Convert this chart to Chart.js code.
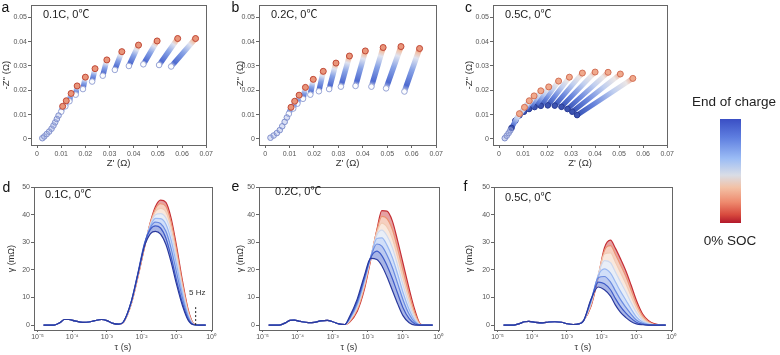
<!DOCTYPE html>
<html><head><meta charset="utf-8">
<script src="https://cdn.jsdelivr.net/npm/chart.js@4.4.1/dist/chart.umd.min.js"></script>
<style>
body{margin:0;background:#fff;width:780px;height:355px;overflow:hidden;position:relative;font-family:"Liberation Sans",Arial,"Noto Sans CJK SC",sans-serif;}
canvas{position:absolute;}
.lbl{position:absolute;color:#222;white-space:nowrap;line-height:1;}
.letter{font-size:14px;color:#111;}
.cond{font-size:11px;color:#222;}
.cb{position:absolute;left:720px;top:119px;width:21px;height:104px;background:linear-gradient(to bottom,#3a4fc4 0%,#5f7fe0 18%,#9bbcf5 38%,#d9dde6 54%,#f3c1a5 66%,#ee8a6e 80%,#d84a3e 92%,#b2182b 100%);}
</style></head><body>
<canvas id="ca" width="215" height="175" style="left:0px;top:0px"></canvas>
<canvas id="cb" width="212" height="175" style="left:233px;top:0px"></canvas>
<canvas id="cc" width="214" height="175" style="left:462px;top:0px"></canvas>
<canvas id="cd" width="217" height="173" style="left:0px;top:182px"></canvas>
<canvas id="ce" width="210" height="173" style="left:234px;top:182px"></canvas>
<canvas id="cf" width="214" height="173" style="left:463px;top:182px"></canvas>

<div class="lbl letter" style="left:1.5px;top:0px">a</div>
<div class="lbl letter" style="left:231.5px;top:0px">b</div>
<div class="lbl letter" style="left:465px;top:0px">c</div>
<div class="lbl letter" style="left:2.5px;top:180px">d</div>
<div class="lbl letter" style="left:231.5px;top:179px">e</div>
<div class="lbl letter" style="left:463.5px;top:179px">f</div>

<div class="lbl cond" style="left:43px;top:9px">0.1C, 0℃</div>
<div class="lbl cond" style="left:271px;top:9px">0.2C, 0℃</div>
<div class="lbl cond" style="left:505px;top:9px">0.5C, 0℃</div>
<div class="lbl cond" style="left:45px;top:189px">0.1C, 0℃</div>
<div class="lbl cond" style="left:275px;top:186px">0.2C, 0℃</div>
<div class="lbl cond" style="left:505px;top:192px">0.5C, 0℃</div>

<div class="lbl" style="left:189px;top:289px;font-size:8px;color:#333">5 Hz</div>

<div class="lbl" style="left:674px;top:94.5px;width:120px;text-align:center;font-size:13.5px;color:#222">End of charge</div>
<div class="cb"></div>
<div class="lbl" style="left:670px;top:234px;width:120px;text-align:center;font-size:13.5px;color:#222">0% SOC</div>

<script>
// ---------- axis ticks ----------
const nyqXTicks = [0, 0.01, 0.02, 0.03, 0.04, 0.05, 0.06, 0.07];
const nyqXLabels = ['0', '0.01', '0.02', '0.03', '0.04', '0.05', '0.06', '0.07'];
const nyqYTicks = [0, 0.01, 0.02, 0.03, 0.04, 0.05];
const nyqYLabels = ['0', '0.01', '0.02', '0.03', '0.04', '0.05'];
const tauTicks = [1e-5, 1e-4, 1e-3, 1e-2, 1e-1, 1];
const tauLabels = ['10⁻⁵', '10⁻⁴', '10⁻³', '10⁻²', '10⁻¹', '10⁰'];
const gammaTicks = [0, 10, 20, 30, 40, 50];
const gammaLabels = ['0', '10', '20', '30', '40', '50'];

// ---------- Nyquist (a) 0.1C ----------
const aTailRe = [0.0022, 0.0030, 0.0040, 0.0050, 0.0060, 0.0068, 0.0075, 0.0082, 0.0089];
const aTailIm = [0.0003, 0.0010, 0.0020, 0.0030, 0.0042, 0.0055, 0.0068, 0.0082, 0.0096];
const aChargedRe = [0.0100, 0.0117, 0.0134, 0.0160, 0.0190, 0.0228, 0.0272, 0.0322, 0.0380, 0.0440, 0.0505, 0.0555];
const aChargedIm = [0.0112, 0.0134, 0.0155, 0.0182, 0.0205, 0.0236, 0.0260, 0.0284, 0.0300, 0.0307, 0.0304, 0.0298];
const aSoc0Re = [0.0106, 0.0121, 0.0141, 0.0166, 0.0200, 0.0240, 0.0289, 0.0351, 0.0420, 0.0497, 0.0582, 0.0656];
const aSoc0Im = [0.0134, 0.0157, 0.0187, 0.0218, 0.0254, 0.0289, 0.0325, 0.0359, 0.0386, 0.0403, 0.0413, 0.0413];

// ---------- Nyquist (b) 0.2C ----------
const bTailRe = [0.0022, 0.0035, 0.0048, 0.0060, 0.0070, 0.0080, 0.0089];
const bTailIm = [0.0005, 0.0014, 0.0024, 0.0036, 0.0052, 0.0070, 0.0088];
const bChargedRe = [0.0097, 0.0115, 0.0132, 0.0155, 0.0185, 0.0220, 0.0262, 0.0310, 0.0370, 0.0435, 0.0495, 0.0570];
const bChargedIm = [0.0103, 0.0125, 0.0145, 0.0165, 0.0182, 0.0196, 0.0205, 0.0215, 0.0218, 0.0215, 0.0208, 0.0195];
const bSoc0Re = [0.0106, 0.0121, 0.0139, 0.0165, 0.0197, 0.0238, 0.0290, 0.0345, 0.0410, 0.0483, 0.0556, 0.0632];
const bSoc0Im = [0.0130, 0.0155, 0.0180, 0.0212, 0.0245, 0.0278, 0.0312, 0.0341, 0.0362, 0.0376, 0.0380, 0.0372];

// ---------- Nyquist (c) 0.5C ----------
const cTailRe = [0.0024, 0.0032, 0.0040, 0.0047];
const cTailIm = [0.0003, 0.0013, 0.0024, 0.0035];
const cChargedRe = [0.0052, 0.0068, 0.0085, 0.0104, 0.0125, 0.0148, 0.0174, 0.0203, 0.0232, 0.0260, 0.0285, 0.0305, 0.0325];
const cChargedIm = [0.0045, 0.0075, 0.0097, 0.0112, 0.0123, 0.0131, 0.0136, 0.0138, 0.0137, 0.0132, 0.0123, 0.0112, 0.0098];
const cSoc0Re = [0.0085, 0.0106, 0.0126, 0.0146, 0.0174, 0.0207, 0.0248, 0.0293, 0.0347, 0.0400, 0.0454, 0.0505, 0.0557];
const cSoc0Im = [0.0104, 0.0130, 0.0157, 0.0177, 0.0198, 0.0214, 0.0238, 0.0254, 0.0271, 0.0275, 0.0274, 0.0267, 0.0249];

// ---------- DRT: tau grid ----------
const tauLow = [1.5e-5, 3e-5, 4.5e-5, 6e-5, 8e-5, 1.2e-4, 2e-4, 3e-4, 4.5e-4, 7e-4, 1e-3, 1.5e-3, 2.2e-3];
const tauPeak = [3e-3, 5e-3, 8e-3, 0.012, 0.018, 0.025, 0.035, 0.05, 0.07, 0.1, 0.15, 0.22, 0.32, 0.45, 0.7];

// (d) 0.1C: common low-tau part + curves from 0% SOC (first) to end of charge (last)
const dLow = [0, 0, 0.9, 2.0, 2.0, 1.5, 1.0, 1.1, 1.6, 2.0, 1.6, 0.6, 0.3];
const dCurves = [
  [1.0, 7.5, 18.0, 28.0, 37.5, 43.0, 45.3, 44.5, 39.0, 29.0, 16.0, 5.5, 0.4, 0, 0],
  [1.0, 7.6, 18.2, 28.2, 37.2, 42.2, 44.0, 43.0, 37.4, 27.6, 15.0, 5.0, 0.3, 0, 0],
  [1.0, 7.8, 18.5, 28.5, 36.9, 41.2, 42.3, 41.0, 35.5, 26.0, 13.9, 4.5, 0.3, 0, 0],
  [1.1, 8.0, 18.8, 28.8, 36.5, 40.0, 40.4, 38.8, 33.4, 24.2, 12.7, 3.9, 0.2, 0, 0],
  [1.1, 8.1, 19.0, 29.0, 36.0, 38.7, 38.6, 36.6, 31.0, 22.2, 11.4, 3.3, 0.2, 0, 0],
  [1.1, 8.3, 19.2, 29.2, 35.4, 37.3, 36.8, 34.0, 28.0, 19.4, 9.8, 2.7, 0.1, 0, 0],
  [1.2, 8.5, 19.5, 29.5, 34.8, 36.0, 35.2, 31.5, 25.0, 16.5, 8.0, 2.0, 0.1, 0, 0],
  [1.2, 8.3, 19.0, 28.5, 33.2, 34.0, 33.0, 29.2, 23.0, 15.0, 7.0, 1.7, 0.1, 0, 0]
];
const dMarkTau = [0.36, 0.36];
const dMarkGamma = [0, 6.5];

// (e) 0.2C
const eLow = [0, 0, 0.8, 1.7, 1.8, 1.3, 0.9, 1.0, 1.5, 1.7, 1.2, 0.4, 0.2];
const eCurves = [
  [1.0, 5.0, 13.0, 23.5, 34.5, 41.5, 41.3, 37.7, 30.7, 22.5, 13.2, 5.3, 0.3, 0, 0],
  [1.2, 5.6, 13.8, 24.0, 34.2, 39.4, 38.6, 34.6, 27.8, 19.8, 11.2, 4.2, 0.2, 0, 0],
  [1.5, 6.2, 14.6, 24.4, 33.6, 37.0, 35.6, 31.4, 24.8, 17.2, 9.3, 3.2, 0.1, 0, 0],
  [1.7, 6.8, 15.4, 24.6, 32.6, 34.4, 32.4, 28.0, 21.8, 14.6, 7.4, 2.3, 0.1, 0, 0],
  [2.0, 7.4, 16.0, 24.6, 31.4, 31.6, 29.0, 24.4, 18.6, 11.9, 5.6, 1.5, 0, 0, 0],
  [2.3, 8.0, 16.6, 24.6, 29.4, 28.6, 25.4, 20.8, 15.2, 9.2, 3.9, 0.9, 0, 0, 0],
  [2.6, 8.8, 17.3, 24.4, 26.8, 25.2, 21.6, 16.8, 11.6, 6.3, 2.3, 0.4, 0, 0, 0],
  [3.0, 9.5, 18.0, 24.2, 23.8, 21.5, 17.5, 12.5, 7.8, 3.4, 0.8, 0, 0, 0, 0]
];

// (f) 0.5C
const fLow = [0, 0, 0.6, 1.2, 1.3, 1.0, 0.8, 1.1, 1.2, 1.0, 0.5, 0.2, 0.4];
const fCurves = [
  [1.5, 7.0, 17.5, 28.0, 30.8, 27.8, 24.0, 19.6, 14.6, 9.0, 4.1, 1.7, 0.5, 0.1, 0],
  [1.6, 7.4, 17.8, 27.0, 28.8, 25.6, 21.8, 17.6, 12.8, 7.7, 3.4, 1.3, 0.3, 0, 0],
  [1.6, 7.8, 18.2, 25.8, 26.2, 22.8, 19.0, 15.0, 10.6, 6.2, 2.6, 0.9, 0.2, 0, 0],
  [1.6, 8.2, 18.4, 23.4, 22.6, 19.2, 15.6, 12.0, 8.2, 4.6, 1.8, 0.6, 0.1, 0, 0],
  [1.6, 8.6, 18.0, 20.4, 18.8, 15.6, 12.2, 9.0, 5.9, 3.0, 1.1, 0.3, 0, 0, 0],
  [1.5, 9.0, 17.2, 17.6, 15.6, 12.4, 9.2, 6.4, 4.0, 1.8, 0.6, 0.1, 0, 0, 0],
  [1.5, 9.3, 15.6, 15.0, 12.8, 9.6, 6.7, 4.3, 2.5, 1.0, 0.3, 0, 0, 0, 0],
  [1.5, 9.5, 13.8, 12.8, 10.5, 7.2, 4.6, 2.7, 1.3, 0.4, 0.1, 0, 0, 0, 0]
];

// colours: end of charge (blue) -> 0% SOC (red)
const drtColors = ['#2b3a9e', '#3f5bc8', '#6a8ae0', '#9ab8f2', '#cfd9ee', '#f1cbb4', '#ec9473', '#c62f34'];

const FONT = '"Liberation Sans", Arial, sans-serif';
const AX = '#555';

const framePlugin = {
  id: 'frame',
  afterDraw(chart) {
    const a = chart.chartArea, c = chart.ctx;
    c.save(); c.strokeStyle = '#666'; c.lineWidth = 1;
    c.strokeRect(Math.round(a.left) + 0.5, Math.round(a.top) + 0.5, Math.round(a.right - a.left), Math.round(a.bottom - a.top));
    c.restore();
  }
};

function strokeGradient(ctx, stops) {
  const chart = ctx.chart;
  const d = ctx.dataset && ctx.dataset.data;
  const xs = chart.scales && chart.scales.x, ys = chart.scales && chart.scales.y;
  if (!d || !xs || !ys || !chart.chartArea) return stops[0][1];
  const x0 = xs.getPixelForValue(d[0].x), y0 = ys.getPixelForValue(d[0].y);
  const x1 = xs.getPixelForValue(d[1].x), y1 = ys.getPixelForValue(d[1].y);
  if (![x0, y0, x1, y1].every(isFinite)) return stops[0][1];
  const g = chart.ctx.createLinearGradient(x0, y0, x1, y1);
  stops.forEach(s => g.addColorStop(s[0], s[1]));
  return g;
}

const styleAB = {
  width: 5.5,
  stops: [[0, '#c3cbe9'], [0.14, '#4f6bd0'], [0.5, '#88a3e6'], [0.78, '#dfe3f0'], [0.9, '#f1c2a9'], [1, '#d4553f']],
  startFill: 'rgba(255,255,255,0.95)', startBorder: '#9aa6d6',
  endFill: '#e9957a', endBorder: '#c04a38',
  tailFill: 'rgba(150,165,225,0.35)', tailBorder: '#8190cc'
};
const styleC = {
  width: 5,
  stops: [[0, '#3550b4'], [0.3, '#6784dc'], [0.65, '#c0cff0'], [0.88, '#ebe6e6'], [1, '#eea084']],
  startFill: '#3b52b0', startBorder: '#2a3c96',
  endFill: '#f0a98c', endBorder: '#d27056',
  tailFill: 'rgba(150,165,225,0.45)', tailBorder: '#7f8ecb'
};

function nyqDatasets(tRe, tIm, bRe, bIm, rRe, rIm, st) {
  const ds = [{
    data: tRe.map((x, i) => ({x: x, y: tIm[i]})), showLine: false,
    pointRadius: 2.8, pointBorderWidth: 1, pointBackgroundColor: st.tailFill, pointBorderColor: st.tailBorder
  }];
  bRe.forEach((x, i) => {
    ds.push({
      data: [{x: x, y: bIm[i]}, {x: rRe[i], y: rIm[i]}],
      showLine: true, borderWidth: st.width, borderCapStyle: 'round',
      borderColor: ctx => strokeGradient(ctx, st.stops),
      pointRadius: [2.8, 3], pointBorderWidth: 1,
      pointBackgroundColor: [st.startFill, st.endFill],
      pointBorderColor: [st.startBorder, st.endBorder]
    });
  });
  return ds;
}

function drtDatasets(low, curves, mark) {
  const tau = tauLow.concat(tauPeak);
  const ordered = curves.slice().reverse(); // index 0 = end of charge (blue)
  const ds = ordered.map((c, i) => {
    const g = low.concat(c);
    return {
      data: tau.map((t, k) => ({x: t, y: g[k]})),
      showLine: true,
      borderColor: drtColors[i], backgroundColor: drtColors[i] + '73',
      borderWidth: 1.2, pointRadius: 0, fill: i === 0 ? false : '-1',
      cubicInterpolationMode: 'monotone'
    };
  });
  if (mark) {
    ds.unshift({
      data: mark[0].map((t, k) => ({x: t, y: mark[1][k]})),
      showLine: true,
      borderColor: '#222', borderWidth: 1, borderDash: [2, 2], pointRadius: 0, fill: false
    });
    // first curve must not fill to the marker line
    ds[1].fill = false;
  }
  return ds;
}

function tickFont() { return {size: 7, family: FONT}; }

function makeChart(id, datasets, cfg) {
  const nyq = cfg.kind === 'nyq';
  new Chart(document.getElementById(id), {
    type: 'scatter',
    data: {datasets: datasets},
    options: {
      responsive: false, animation: false, events: [],
      layout: {padding: {top: cfg.padTop, right: 4, left: 0, bottom: 0}, autoPadding: false},
      plugins: {legend: {display: false}, tooltip: {enabled: false}},
      scales: {
        x: nyq ? {
          type: 'linear', min: -0.0025, max: 0.07,
          afterBuildTicks: s => { s.ticks = nyqXTicks.map(v => ({value: v})); },
          ticks: {callback: (v, i) => nyqXLabels[i], font: tickFont(), color: AX, padding: 2, maxRotation: 0, autoSkip: false},
          grid: {drawOnChartArea: false, tickLength: 3, tickColor: '#666'},
          border: {color: '#666'},
          title: {display: true, text: "Z' (Ω)", font: {size: 9.5, family: FONT}, color: '#333', padding: {top: 0, bottom: 6.3}},
          afterFit: s => { s.height = 30; }
        } : {
          type: 'logarithmic', min: Math.pow(10, -5.1), max: Math.pow(10, 0.02),
          afterBuildTicks: s => { s.ticks = tauTicks.map(v => ({value: v})); },
          ticks: {callback: (v, i) => tauLabels[i], font: tickFont(), color: AX, padding: 1, maxRotation: 0, autoSkip: false},
          grid: {drawOnChartArea: false, tickLength: 2, tickColor: '#666'},
          border: {color: '#666'},
          title: {display: true, text: 'τ (s)', font: {size: 9, family: FONT}, color: '#333', padding: {top: 0, bottom: 1.6}},
          afterFit: s => { s.height = 25; }
        },
        y: nyq ? {
          type: 'linear', min: -0.0025, max: 0.055,
          afterBuildTicks: s => { s.ticks = nyqYTicks.map(v => ({value: v})); },
          ticks: {callback: (v, i) => nyqYLabels[i], font: tickFont(), color: AX, padding: 1, autoSkip: false},
          grid: {drawOnChartArea: false, tickLength: 3, tickColor: '#666'},
          border: {color: '#666'},
          title: {display: true, text: "-Z'' (Ω)", font: {size: 9.5, family: FONT}, color: '#333', padding: {top: cfg.titlePad, bottom: 0}},
          afterFit: s => { s.width = cfg.yw; }
        } : {
          type: 'linear', min: -1.8, max: 50,
          afterBuildTicks: s => { s.ticks = gammaTicks.map(v => ({value: v})); },
          ticks: {callback: (v, i) => gammaLabels[i], font: tickFont(), color: AX, padding: 1, autoSkip: false},
          grid: {drawOnChartArea: false, tickLength: 3, tickColor: '#666'},
          border: {color: '#666'},
          title: {display: true, text: 'γ (mΩ)', font: {size: 9, family: FONT}, color: '#333', padding: {top: cfg.titlePad, bottom: 0}},
          afterFit: s => { s.width = cfg.yw; }
        }
      }
    },
    plugins: [framePlugin]
  });
}

makeChart('ca', nyqDatasets(aTailRe, aTailIm, aChargedRe, aChargedIm, aSoc0Re, aSoc0Im, styleAB), {kind: 'nyq', padTop: 3, yw: 31, titlePad: 1});
makeChart('cb', nyqDatasets(bTailRe, bTailIm, bChargedRe, bChargedIm, bSoc0Re, bSoc0Im, styleAB), {kind: 'nyq', padTop: 3, yw: 26, titlePad: 1.3});
makeChart('cc', nyqDatasets(cTailRe, cTailIm, cChargedRe, cChargedIm, cSoc0Re, cSoc0Im, styleC), {kind: 'nyq', padTop: 3, yw: 31, titlePad: 1.3});
makeChart('cd', drtDatasets(dLow, dCurves, [dMarkTau, dMarkGamma]), {kind: 'drt', padTop: 3, yw: 34, titlePad: 6.3});
makeChart('ce', drtDatasets(eLow, eCurves, null), {kind: 'drt', padTop: 4, yw: 25, titlePad: 1.3});
makeChart('cf', drtDatasets(fLow, fCurves, null), {kind: 'drt', padTop: 4, yw: 31, titlePad: 1.6});
</script>
</body></html>
